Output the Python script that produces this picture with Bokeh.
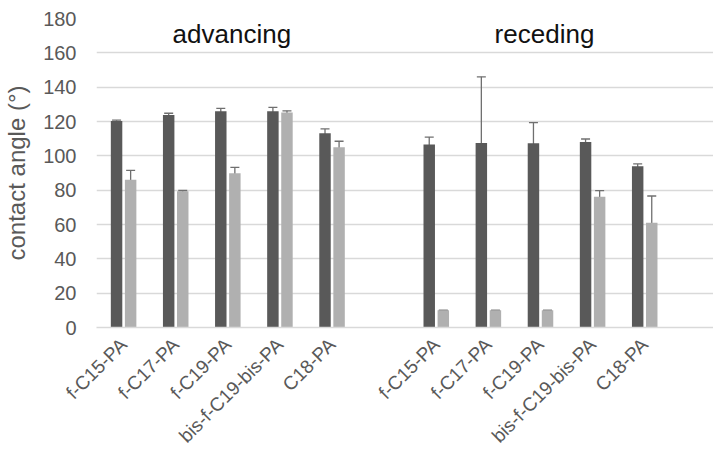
from bokeh.plotting import figure
from bokeh.models import ColumnDataSource, FixedTicker, Whisker, TeeHead, Range1d
from bokeh.core.properties import value
from bokeh.embed import file_html
from bokeh.resources import INLINE

# ---- data ----
samples = ["f-C15-PA", "f-C17-PA", "f-C19-PA", "bis-f-C19-bis-PA", "C18-PA"]
groups = ["advancing", "receding"]

adv_dark = [120.3, 123.8, 126.0, 126.0, 113.2]
adv_dark_err = [0.5, 1.0, 1.6, 2.2, 2.5]
adv_light = [86.0, 79.4, 89.8, 125.2, 105.0]
adv_light_err = [5.5, 0.5, 3.5, 1.0, 3.5]

rec_dark = [106.6, 107.5, 107.3, 108.1, 94.0]
rec_dark_err = [4.3, 38.5, 12.0, 1.7, 1.3]
rec_light = [10.0, 10.0, 10.0, 76.2, 61.0]
rec_light_err = [0.0, 0.0, 0.0, 3.5, 15.6]

y_ticks = [0, 20, 40, 60, 80, 100, 120, 140, 160, 180]

DARK = "#595959"
LIGHT = "#b0b0b0"
ERR = "#6f6f6f"
GRID = "#d9d9d9"
TXT = "#595959"
FONT = "Liberation Sans"

# slot positions: group 0 -> 0..4, empty slot, group 1 -> 6..10
n = len(samples)
pos_adv = [i for i in range(n)]
pos_rec = [i + n + 1 for i in range(n)]
positions = pos_adv + pos_rec
labels = samples + samples

dark_vals = adv_dark + rec_dark
dark_err = adv_dark_err + rec_dark_err
light_vals = adv_light + rec_light
light_err = adv_light_err + rec_light_err

off = 0.135
bw = 0.22

dark_src = ColumnDataSource(dict(
    x=[q - off for q in positions], top=dark_vals,
    upper=[v + e for v, e in zip(dark_vals, dark_err)],
    lower=[v - e for v, e in zip(dark_vals, dark_err)]))
light_src = ColumnDataSource(dict(
    x=[q + off for q in positions], top=light_vals,
    upper=[v + e for v, e in zip(light_vals, light_err)],
    lower=[v - e for v, e in zip(light_vals, light_err)]))

p = figure(width=713, height=456, output_backend="svg", toolbar_location=None,
           x_range=Range1d(-0.52, 11.32), y_range=Range1d(0, 180),
           min_border_left=96, min_border_right=0, min_border_top=18, min_border_bottom=129)
p.outline_line_color = None
p.background_fill_color = "white"
p.border_fill_color = "white"

p.vbar(x="x", top="top", width=bw, source=dark_src, fill_color=DARK, line_color=None)
p.vbar(x="x", top="top", width=bw, source=light_src, fill_color=LIGHT, line_color=None)

for src in (dark_src, light_src):
    w = Whisker(source=src, base="x", upper="upper", lower="lower",
                line_color=ERR, line_width=1.3,
                upper_head=TeeHead(size=9, line_color=ERR, line_width=1.3),
                lower_head=TeeHead(size=9, line_color=ERR, line_width=1.3))
    p.add_layout(w)

# group headings
grp_x = [sum(pos_adv) / n, sum(pos_rec) / n]
p.text(x=grp_x, y=[171, 171], text=groups, text_align="center", text_baseline="middle",
       text_font=value(FONT), text_font_size="26px", text_color="#111111", x_offset=4)

# axes
p.xaxis.ticker = FixedTicker(ticks=positions)
p.xaxis.major_label_overrides = {q: lab for q, lab in zip(positions, labels)}
p.xaxis.major_label_orientation = 0.785398
p.xaxis.major_label_text_font = FONT
p.xaxis.major_label_text_font_size = "19px"
p.xaxis.major_label_text_color = TXT
p.xaxis.major_tick_line_color = None
p.xaxis.major_tick_out = 0
p.xaxis.major_tick_in = 0
p.xaxis.minor_tick_line_color = None
p.xaxis.axis_line_color = GRID
p.xaxis.axis_line_width = 1.5
p.xaxis.major_label_standoff = 14

p.yaxis.ticker = FixedTicker(ticks=y_ticks)
p.yaxis.major_label_text_font = FONT
p.yaxis.major_label_text_font_size = "20px"
p.yaxis.major_label_text_color = TXT
p.yaxis.major_tick_line_color = None
p.yaxis.major_tick_out = 0
p.yaxis.major_tick_in = 0
p.yaxis.minor_tick_line_color = None
p.yaxis.axis_line_color = None
p.yaxis.major_label_standoff = 20
p.yaxis.axis_label = "contact angle (°)"
p.yaxis.axis_label_text_font = FONT
p.yaxis.axis_label_text_font_size = "24px"
p.yaxis.axis_label_text_font_style = "normal"
p.yaxis.axis_label_text_color = TXT
p.yaxis.axis_label_standoff = 10

p.xgrid.grid_line_color = None
p.ygrid.grid_line_color = GRID
p.ygrid.grid_line_width = 1.3

open("out.html", "w").write(file_html(p, INLINE))
